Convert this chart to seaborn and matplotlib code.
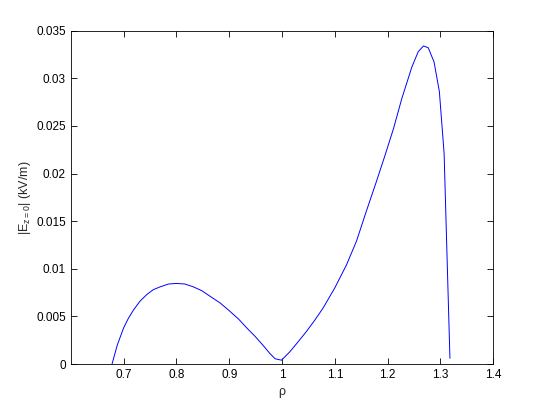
import seaborn as sns
import matplotlib.pyplot as plt

# values
rho = [0.678, 0.683, 0.688, 0.694, 0.700, 0.709, 0.719, 0.731, 0.744, 0.756,
       0.769, 0.785, 0.800, 0.816, 0.832, 0.848, 0.864, 0.883, 0.902, 0.918,
       0.933, 0.949, 0.965, 0.977, 0.987, 0.999, 1.015, 1.030, 1.046, 1.062,
       1.078, 1.100, 1.122, 1.141, 1.160, 1.179, 1.195, 1.211, 1.227, 1.246,
       1.258, 1.268, 1.277, 1.288, 1.298, 1.307, 1.318]
e_field = [0.0000, 0.0010, 0.0020, 0.0029, 0.0038, 0.0048, 0.0057, 0.0066, 0.0073, 0.0078,
           0.0081, 0.0084, 0.00846, 0.0084, 0.0081, 0.0077, 0.0071, 0.0064, 0.0055, 0.0047,
           0.0038, 0.0029, 0.0019, 0.0011, 0.00055, 0.0004, 0.0013, 0.0023, 0.0034, 0.0046,
           0.0059, 0.0080, 0.0104, 0.0129, 0.0161, 0.0192, 0.0219, 0.0247, 0.0279, 0.0312,
           0.0328, 0.0334, 0.0332, 0.0317, 0.0286, 0.0221, 0.0006]

x_ticks = [0.7, 0.8, 0.9, 1.0, 1.1, 1.2, 1.3, 1.4]
x_labels = ['0.7', '0.8', '0.9', '1', '1.1', '1.2', '1.3', '1.4']
y_ticks = [0, 0.005, 0.01, 0.015, 0.02, 0.025, 0.03, 0.035]
y_labels = ['0', '0.005', '0.01', '0.015', '0.02', '0.025', '0.03', '0.035']

sns.set_style('ticks')
plt.rcParams['font.family'] = ['Liberation Sans', 'DejaVu Sans']
plt.rcParams['mathtext.default'] = 'regular'

fig = plt.figure(figsize=(5.45, 4.09), dpi=100)
ax = fig.add_axes([0.13, 0.11, 0.775, 0.815])

sns.lineplot(x=rho, y=e_field, ax=ax, color='#0000ff', linewidth=0.7, estimator=None)

ax.set_xlim(0.6, 1.4)
ax.set_ylim(0, 0.035)
ax.set_xticks(x_ticks)
ax.set_xticklabels(x_labels)
ax.set_yticks(y_ticks)
ax.set_yticklabels(y_labels)
ax.tick_params(direction='in', length=4, width=0.6, labelsize=8.5,
               top=True, right=True, colors='black')
for s in ax.spines.values():
    s.set_linewidth(0.6)
    s.set_color('black')

ax.set_xlabel('ρ', fontsize=9)
ax.set_ylabel('|E$_{z=0}$| (kV/m)', fontsize=9, labelpad=2)

fig.savefig('out.png', dpi=100)
plt.close('all')
